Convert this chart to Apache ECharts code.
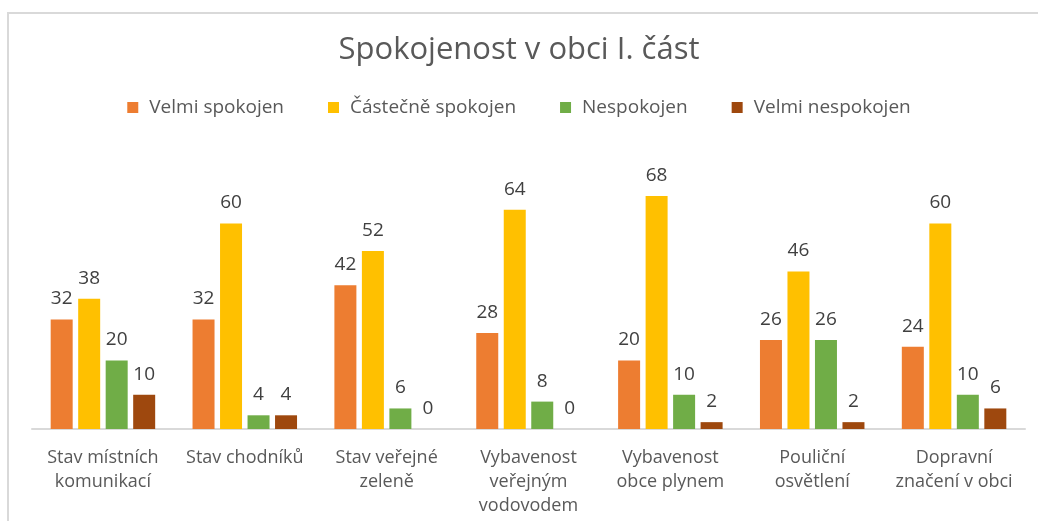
<!DOCTYPE html>
<html>
<head>
<meta charset="utf-8">
<script src="https://cdn.jsdelivr.net/npm/echarts@6/dist/echarts.min.js"></script>
<style>
  html, body { margin: 0; padding: 0; background: #fff; }
  #chart { width: 1038px; height: 521px; }
</style>
</head>
<body>
<div id="chart"></div>
<script>
  // kategorie a hodnoty
  var categories = ['Stav místních\nkomunikací', 'Stav chodníků', 'Stav veřejné\nzeleně', 'Vybavenost\nveřejným\nvodovodem', 'Vybavenost\nobce plynem', 'Pouliční\nosvětlení', 'Dopravní\nznačení v obci']
  var seriesNames = ['Velmi spokojen', 'Částečně spokojen', 'Nespokojen', 'Velmi nespokojen']
  var velmiSpokojen = [32, 32, 42, 28, 20, 26, 24]
  var castecneSpokojen = [38, 60, 52, 64, 68, 46, 60]
  var nespokojen = [20, 4, 6, 8, 10, 26, 10]
  var velmiNespokojen = [10, 4, 0, 0, 2, 2, 6]
  var colors = ['#ED7D31', '#FFC000', '#70AD47', '#9E480E']

  var font = '"Open Sans", "Noto Sans", sans-serif'
  var allData = [velmiSpokojen, castecneSpokojen, nespokojen, velmiNespokojen]

  var chart = echarts.init(document.getElementById('chart'))
  chart.setOption({
    animation: false,
    color: colors,
    title: {
      text: 'Spokojenost v obci I. část',
      left: 'center',
      top: 30,
      textStyle: { fontFamily: font, fontSize: 31, fontWeight: 'normal', color: '#595959' }
    },
    legend: {
      data: seriesNames,
      top: 93,
      left: 'center',
      itemWidth: 11,
      itemHeight: 11,
      itemGap: 44,
      icon: 'rect',
      textStyle: { fontFamily: font, fontSize: 19, color: '#595959', padding: [0, 0, 0, 6] }
    },
    graphic: [{
      type: 'rect',
      shape: { x: 8, y: 13, width: 1040, height: 520 },
      style: { fill: 'none', stroke: '#d9d9d9', lineWidth: 2 },
      silent: true
    }],
    grid: { left: 32, right: 13, top: 155, bottom: 92 },
    xAxis: {
      type: 'category',
      data: categories,
      axisLine: { lineStyle: { color: '#d9d9d9', width: 2 } },
      axisTick: { show: false },
      axisLabel: { fontFamily: font, fontSize: 18, color: '#595959', lineHeight: 24, margin: 17, interval: 0 }
    },
    yAxis: {
      type: 'value',
      min: 0,
      max: 80,
      show: false,
      splitLine: { show: false }
    },
    series: seriesNames.map(function (name, i) {
      return {
        name: name,
        type: 'bar',
        barWidth: 22,
        barGap: '25%',
        data: allData[i],
        label: { show: true, position: 'top', distance: 11, fontFamily: font, fontSize: 19, color: '#404040' }
      }
    })
  })
</script>
</body>
</html>
